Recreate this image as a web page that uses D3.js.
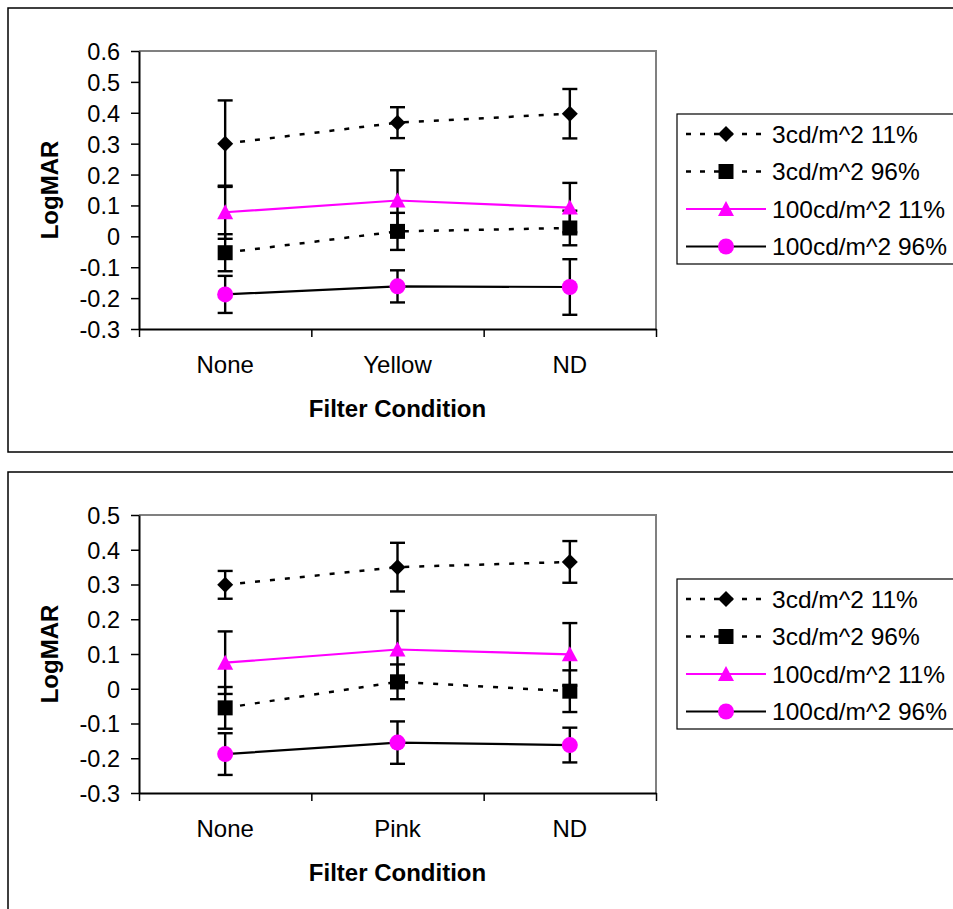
<!DOCTYPE html>
<html>
<head>
<meta charset="utf-8">
<script src="https://cdn.jsdelivr.net/npm/d3@7"></script>
<style>
  html, body { margin: 0; padding: 0; background: #fff; }
  svg { display: block; }
  text { font-family: "Liberation Sans", Arial, sans-serif; fill: #000; }
</style>
</head>
<body>
<script>
// ---------------- DATA ----------------
const seriesNames = ["3cd/m^2 11%", "3cd/m^2 96%", "100cd/m^2 11%", "100cd/m^2 96%"];

const categoriesTop = ["None", "Yellow", "ND"];
const yTicksTop = [0.6, 0.5, 0.4, 0.3, 0.2, 0.1, 0, -0.1, -0.2, -0.3];
const top3cd11 = [0.30, 0.368, 0.397];
const top3cd11Err = [0.14, 0.05, 0.08];
const top3cd96 = [-0.053, 0.016, 0.027];
const top3cd96Err = [0.06, 0.06, 0.056];
const top100cd11 = [0.078, 0.116, 0.093];
const top100cd11Err = [0.086, 0.098, 0.08];
const top100cd96 = [-0.188, -0.162, -0.164];
const top100cd96Err = [0.06, 0.052, 0.09];

const categoriesBottom = ["None", "Pink", "ND"];
const yTicksBottom = [0.5, 0.4, 0.3, 0.2, 0.1, 0, -0.1, -0.2, -0.3];
const bot3cd11 = [0.299, 0.35, 0.365];
const bot3cd11Err = [0.04, 0.07, 0.06];
const bot3cd96 = [-0.055, 0.02, -0.007];
const bot3cd96Err = [0.06, 0.05, 0.06];
const bot100cd11 = [0.075, 0.113, 0.099];
const bot100cd11Err = [0.09, 0.111, 0.09];
const bot100cd96 = [-0.188, -0.155, -0.162];
const bot100cd96Err = [0.06, 0.061, 0.05];

const xTitle = "Filter Condition";
const yTitle = "LogMAR";

// ---------------- STYLE ----------------
const MAGENTA = "#FF00FF";
const seriesStyle = [
  { line: "#000", dash: "5,10", marker: "diamond", fill: "#000" },
  { line: "#000", dash: "5,10", marker: "square", fill: "#000" },
  { line: MAGENTA, dash: null, marker: "triangle", fill: MAGENTA },
  { line: "#000", dash: null, marker: "circle", fill: MAGENTA }
];

const W = 953, H = 909;
const svg = d3.select("body").append("svg").attr("width", W).attr("height", H);

function markerPath(type) {
  const p = d3.path();
  if (type === "diamond") {
    p.moveTo(0, -8); p.lineTo(8, 0); p.lineTo(0, 8); p.lineTo(-8, 0); p.closePath();
  } else if (type === "square") {
    p.rect(-7.5, -7.5, 15, 15);
  } else if (type === "triangle") {
    p.moveTo(0, -8); p.lineTo(8, 7); p.lineTo(-8, 7); p.closePath();
  } else {
    p.arc(0, 0, 8, 0, 2 * Math.PI);
  }
  return p.toString();
}

function drawChart(cfg) {
  const g = svg.append("g");
  // outer frame
  g.append("rect").attr("x", 8).attr("y", cfg.frameTop).attr("width", 1000).attr("height", cfg.frameH)
    .attr("fill", "none").attr("stroke", "#000").attr("stroke-width", 1.5);

  const left = 139, right = 656, top = cfg.plotTop, bottom = cfg.plotBottom;
  const y = d3.scaleLinear().domain([d3.min(cfg.yTicks), d3.max(cfg.yTicks)]).range([bottom, top]);
  const xb = d3.scaleBand().domain(cfg.categories).range([left, right]).padding(0);
  const cx = c => xb(c) + xb.bandwidth() / 2;

  // plot area border (gray)
  g.append("path").attr("d", `M${left},${top}H${right}V${bottom}`)
    .attr("fill", "none").attr("stroke", "#808080").attr("stroke-width", 2);

  // y axis
  const yAxis = d3.axisLeft(y).tickValues(cfg.yTicks).tickSize(8).tickSizeOuter(0).tickPadding(11)
    .tickFormat(d => String(+d.toFixed(1)));
  const ya = g.append("g").attr("transform", `translate(${left},0)`).call(yAxis);
  ya.select(".domain").attr("stroke", "#000").attr("stroke-width", 2);
  ya.selectAll(".tick line").attr("stroke", "#000").attr("stroke-width", 1.5);
  ya.selectAll(".tick text").attr("font-size", 23.5).attr("font-family", "Liberation Sans, Arial, sans-serif")
    .attr("dy", "0.36em").attr("fill", "#000");

  // x axis (boundary ticks)
  const xl = d3.scaleLinear().domain([0, cfg.categories.length]).range([left, right]);
  const xAxis = d3.axisBottom(xl).tickValues(d3.range(cfg.categories.length + 1)).tickSize(8).tickSizeOuter(0)
    .tickFormat("");
  const xa = g.append("g").attr("transform", `translate(0,${bottom})`).call(xAxis);
  xa.select(".domain").attr("stroke", "#000").attr("stroke-width", 2);
  xa.selectAll(".tick line").attr("stroke", "#000").attr("stroke-width", 1.5);

  // category labels
  g.selectAll(".cat").data(cfg.categories).enter().append("text")
    .attr("x", d => cx(d)).attr("y", bottom + 44).attr("text-anchor", "middle")
    .attr("font-size", 24).text(d => d);

  // axis titles
  g.append("text").attr("x", (left + right) / 2).attr("y", bottom + 87.5).attr("text-anchor", "middle")
    .attr("font-size", 24).attr("font-weight", "bold").text(xTitle);
  g.append("text").attr("transform", `translate(58,${(top + bottom) / 2}) rotate(-90)`)
    .attr("text-anchor", "middle").attr("font-size", 24).attr("font-weight", "bold").text(yTitle);

  // series
  cfg.series.forEach((s, i) => {
    const st = seriesStyle[i];
    const pts = cfg.categories.map((c, j) => ({ x: cx(c), v: s.values[j], e: s.err[j] }));
    const line = d3.line().x(d => d.x).y(d => y(d.v));
    g.append("path").datum(pts).attr("d", line).attr("fill", "none")
      .attr("stroke", st.line).attr("stroke-width", st.dash ? 2.5 : 2.2)
      .attr("stroke-dasharray", st.dash);
    // error bars
    const eb = g.append("g").attr("stroke", "#000").attr("stroke-width", 2.4).attr("fill", "none");
    pts.forEach(d => {
      eb.append("line").attr("x1", d.x).attr("x2", d.x).attr("y1", y(d.v + d.e)).attr("y2", y(d.v - d.e));
      eb.append("line").attr("x1", d.x - 7.5).attr("x2", d.x + 7.5).attr("y1", y(d.v + d.e)).attr("y2", y(d.v + d.e));
      eb.append("line").attr("x1", d.x - 7.5).attr("x2", d.x + 7.5).attr("y1", y(d.v - d.e)).attr("y2", y(d.v - d.e));
    });
    g.selectAll(null).data(pts).enter().append("path")
      .attr("d", markerPath(st.marker))
      .attr("transform", d => `translate(${d.x},${y(d.v)})`)
      .attr("fill", st.fill);
  });

  // legend
  const lg = g.append("g");
  lg.append("rect").attr("x", 677).attr("y", cfg.legendTop).attr("width", 300).attr("height", 150)
    .attr("fill", "#fff").attr("stroke", "#000").attr("stroke-width", 1.2);
  seriesNames.forEach((name, i) => {
    const st = seriesStyle[i];
    const ly = cfg.legendTop + 20 + i * 37.5;
    lg.append("line").attr("x1", 686).attr("x2", 766).attr("y1", ly).attr("y2", ly)
      .attr("stroke", st.line).attr("stroke-width", st.dash ? 2.5 : 2.2)
      .attr("stroke-dasharray", st.dash ? "5,9" : null);
    lg.append("path").attr("d", markerPath(st.marker)).attr("transform", `translate(726,${ly})`)
      .attr("fill", st.fill);
    lg.append("text").attr("x", 772).attr("y", ly).attr("dy", "0.36em")
      .attr("font-size", 24.5).text(name);
  });
}

drawChart({
  frameTop: 8, frameH: 444, plotTop: 51, plotBottom: 329, legendTop: 114,
  categories: categoriesTop, yTicks: yTicksTop,
  series: [
    { values: top3cd11, err: top3cd11Err },
    { values: top3cd96, err: top3cd96Err },
    { values: top100cd11, err: top100cd11Err },
    { values: top100cd96, err: top100cd96Err }
  ]
});

drawChart({
  frameTop: 472, frameH: 500, plotTop: 515, plotBottom: 793, legendTop: 579,
  categories: categoriesBottom, yTicks: yTicksBottom,
  series: [
    { values: bot3cd11, err: bot3cd11Err },
    { values: bot3cd96, err: bot3cd96Err },
    { values: bot100cd11, err: bot100cd11Err },
    { values: bot100cd96, err: bot100cd96Err }
  ]
});
</script>
</body>
</html>
